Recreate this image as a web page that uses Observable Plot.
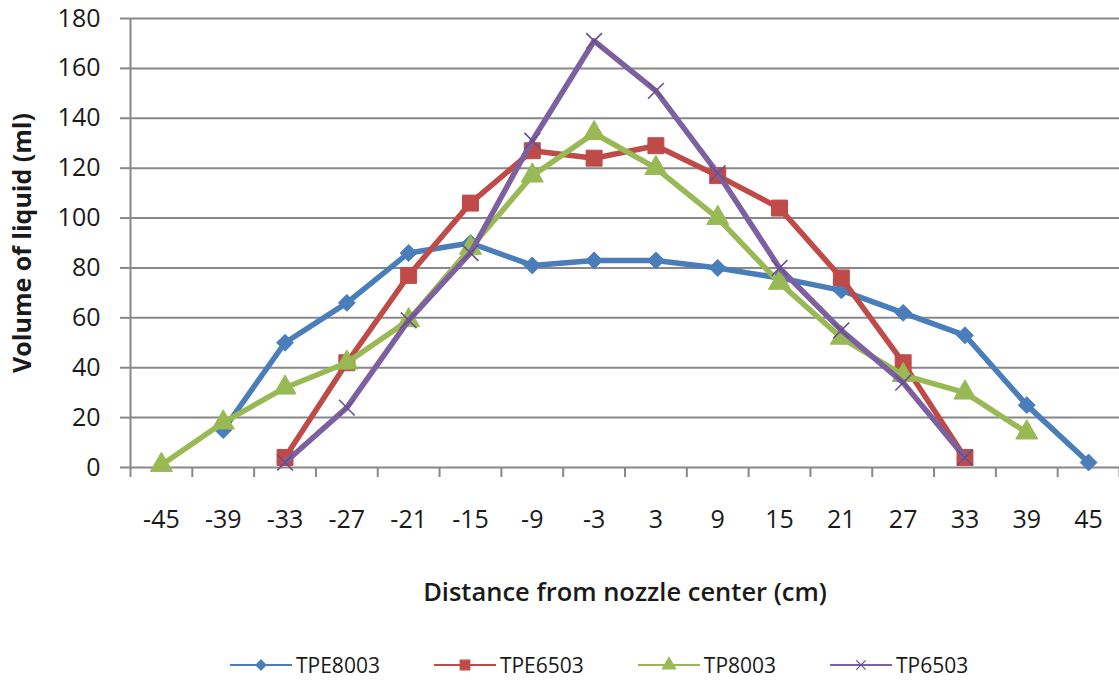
<!DOCTYPE html>
<html>
<head>
<meta charset="utf-8">
<script src="https://cdn.jsdelivr.net/npm/d3@7"></script>
<script src="https://cdn.jsdelivr.net/npm/@observablehq/plot@0.6"></script>
<style>
  html, body { margin: 0; padding: 0; background: #fff; }
  #chart { width: 1119px; height: 683px; position: relative; font-family: "Open Sans", sans-serif; color: #1a1a1a; }
  #legend { position: absolute; left: 0; top: 650px; height: 30px; display: flex; align-items: center; padding-left: 230px; gap: 54px; font-size: 21px; }
  .item { display: flex; align-items: center; }
  .item svg { margin-right: 4px; }
</style>
</head>
<body>
<div id="chart"></div>
<script>
const categories = [-45, -39, -33, -27, -21, -15, -9, -3, 3, 9, 15, 21, 27, 33, 39, 45];
const seriesNames = ["TPE8003", "TPE6503", "TP8003", "TP6503"];
const tpe8003 = [null, 15, 50, 66, 86, 90, 81, 83, 83, 80, 76, 71, 62, 53, 25, 2];
const tpe6503 = [null, null, 4, 42, 77, 106, 127, 124, 129, 117, 104, 76, 42, 4, null, null];
const tp8003  = [1, 18, 32, 42, 59, 88, 117, 134, 120, 100, 74, 52, 37, 30, 14, null];
const tp6503  = [null, null, 2, 24, 59, 86, 131, 171, 151, 118, 80, 55, 34, 4, null, null];
const yTicks = [0, 20, 40, 60, 80, 100, 120, 140, 160, 180];
const yTitle = "Volume of liquid (ml)";
const xTitle = "Distance from nozzle center (cm)";

const seriesValues = [tpe8003, tpe6503, tp8003, tp6503];
const styles = [
  {color: "#4a7ebb", symbol: "diamond2", r: 7.6, fill: true},
  {color: "#be4b48", symbol: "square", r: 9, fill: true},
  {color: "#98b954", symbol: "triangle", r: 8.2, fill: true},
  {color: "#7d60a0", symbol: "times", r: 7.2, fill: false}
];

const step = categories[1] - categories[0];
const xMin = categories[0] - step / 2, xMax = categories[categories.length - 1] + step / 2;
const edges = d3.range(xMin, xMax + step / 2, step);

const rows = seriesNames.map((name, k) =>
  categories.map((c, i) => ({series: name, x: c, y: seriesValues[k][i]})).filter(d => d.y != null)
);

const gridColor = "#888888";
const marks = [
  Plot.gridY(yTicks, {stroke: gridColor, strokeOpacity: 1, strokeWidth: 2}),
  Plot.ruleX([xMin], {stroke: gridColor, strokeWidth: 2}),
  Plot.axisY(yTicks, {tickSize: 10, tickPadding: 20, stroke: gridColor, strokeWidth: 2, strokeOpacity: 1, fontSize: 25, label: null, tickFormat: d => String(d)}),
  Plot.axisX(edges, {tickSize: 10, stroke: gridColor, strokeWidth: 2, strokeOpacity: 1, tickFormat: () => "", label: null}),
  Plot.axisX(categories, {tickSize: 0, tickPadding: 43, fontSize: 25, label: null, tickFormat: d => String(d)})
];
rows.forEach((data, k) => {
  const s = styles[k];
  marks.push(Plot.line(data, {x: "x", y: "y", stroke: s.color, strokeWidth: 5.5, strokeLinejoin: "round"}));
  marks.push(Plot.dot(data, {x: "x", y: "y", symbol: () => s.symbol, r: s.r,
    fill: s.fill ? s.color : "none", stroke: s.fill ? s.color : "#6a4f8c", strokeWidth: s.fill ? 1 : 1.6}));
});
marks.push(Plot.text([yTitle], {frameAnchor: "left", textAnchor: "middle", rotate: -90, dx: -108, fontSize: 25, fontWeight: "bold", fill: "#1a1a1a"}));
marks.push(Plot.text([xTitle], {frameAnchor: "bottom", dy: 133, fontSize: 25.5, fontWeight: 600, fill: "#1a1a1a"}));

const plot = Plot.plot({
  width: 1119,
  height: 630,
  marginTop: 18,
  marginBottom: 163,
  marginLeft: 130,
  marginRight: 0,
  x: {domain: [xMin, xMax]},
  y: {domain: [yTicks[0], yTicks[yTicks.length - 1]]},
  style: {fontFamily: "'Open Sans', sans-serif", color: "#1a1a1a", background: "#fff"},
  marks
});
const chart = document.getElementById("chart");
chart.appendChild(plot);

const legend = d3.select(chart).append("div").attr("id", "legend");
const symMap = {diamond2: d3.symbolDiamond2, square: d3.symbolSquare, triangle: d3.symbolTriangle, times: d3.symbolTimes};
seriesNames.forEach((name, k) => {
  const s = styles[k];
  const item = legend.append("div").attr("class", "item");
  const svg = item.append("svg").attr("width", 62).attr("height", 20);
  svg.append("line").attr("x1", 0).attr("x2", 62).attr("y1", 10).attr("y2", 10).attr("stroke", s.color).attr("stroke-width", 2);
  svg.append("path").attr("transform", "translate(31,10)")
    .attr("d", d3.symbol(symMap[s.symbol], Math.PI * (s.r * 0.6) ** 2)())
    .attr("fill", s.fill ? s.color : "none").attr("stroke", s.fill ? s.color : "#6a4f8c").attr("stroke-width", 1.2);
  item.append("span").text(name);
});
</script>
</body>
</html>
